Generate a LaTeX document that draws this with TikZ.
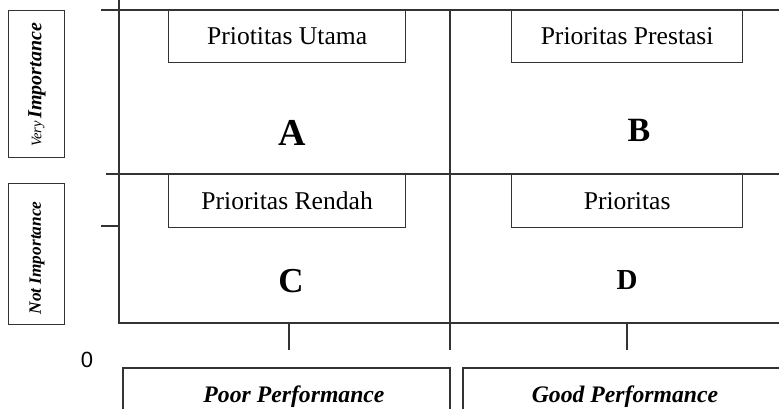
\documentclass[tikz,border=0pt]{standalone}
\usepackage{fontspec}
\setmainfont{Liberation Serif}
\newfontfamily\sansf{Liberation Sans}
\begin{document}
\begin{tikzpicture}[x=1pt,y=-1pt]
\tikzset{
  ln/.style={draw=black!80, line width=1.3pt},
  pbox/.style={draw=black!80, line width=1.3pt, anchor=north west, inner sep=0pt,
    minimum width=237pt, minimum height=52pt, font=\fontsize{25.6}{30}\selectfont},
  quad/.style={inner sep=0pt, font=\bfseries},
  sidebox/.style={draw=black!80, line width=1.3pt, anchor=north west, inner sep=0pt, minimum width=56pt},
  perf/.style={anchor=base, inner sep=0pt, font=\bfseries\itshape\fontsize{23.7}{28}\selectfont},
  botbox/.style={draw=black!80, line width=1.3pt}
}
\useasboundingbox (0,0) rectangle (779,409);
\clip (0,0) rectangle (779,409);
% axis coordinates
\coordinate (ytop) at (119,-5);
\coordinate (org) at (119,323);
\coordinate (xend) at (790,323);
\coordinate (t1a) at (101,10);  \coordinate (t1b) at (790,10);
\coordinate (t2a) at (106,174); \coordinate (t2b) at (790,174);
\coordinate (t3a) at (101,226); \coordinate (t3b) at (119,226);
\coordinate (dva) at (450,10);  \coordinate (dvb) at (450,350);
\coordinate (k1a) at (289,323); \coordinate (k1b) at (289,350);
\coordinate (k2a) at (627,323); \coordinate (k2b) at (627,350);
\draw[ln] (ytop) -- (org) -- (xend);
\draw[ln] (t1a) -- (t1b);
\draw[ln] (t2a) -- (t2b);
\draw[ln] (t3a) -- (t3b);
\draw[ln] (dva) -- (dvb);
\draw[ln] (k1a) -- (k1b);
\draw[ln] (k2a) -- (k2b);
% priority boxes
\node[pbox] (pu) at (168,10) {Priotitas Utama};
\node[pbox, minimum width=231pt] (pp) at (511,10) {Prioritas Prestasi};
\node[pbox, minimum height=53pt] (pr) at (168,174) {Prioritas Rendah};
\node[pbox, minimum width=231pt, minimum height=53pt] (pd) at (511,174) {Prioritas};
% quadrant letters
\node[quad, font=\bfseries\fontsize{38}{40}\selectfont] (qa) at (292,133) {A};
\node[quad, font=\bfseries\fontsize{34}{38}\selectfont] (qb) at (639,130) {B};
\node[quad, font=\bfseries\fontsize{35}{38}\selectfont] (qc) at (291,281) {C};
\node[quad, font=\bfseries\fontsize{29}{32}\selectfont] (qd) at (627,280) {D};
% side boxes
\node[sidebox, minimum height=147pt] (vib) at (8,10) {};
\node[sidebox, minimum height=141pt] (nib) at (8,183) {};
\node[rotate=90, inner sep=0pt] (vit) at (37,85) {{\itshape\fontsize{14.5}{16}\selectfont Very} {\bfseries\itshape\fontsize{20}{22}\selectfont Importance}};
\node[rotate=90, inner sep=0pt, font=\bfseries\itshape\fontsize{17.3}{20}\selectfont] (nit) at (37,258) {Not Importance};
% zero
\node[inner sep=0pt, font=\sansf\fontsize{22}{24}\selectfont] (zero) at (87,360) {0};
% bottom boxes
\draw[botbox] (123,430) coordinate (pba) -- (123,368) -- (450,368) -- (450,430);
\draw[botbox] (463,430) coordinate (gba) -- (463,368) -- (800,368);
\node[perf] (poor) at (294,402) {Poor Performance};
\node[perf] (good) at (625,402) {Good Performance};
\end{tikzpicture}
\end{document}
